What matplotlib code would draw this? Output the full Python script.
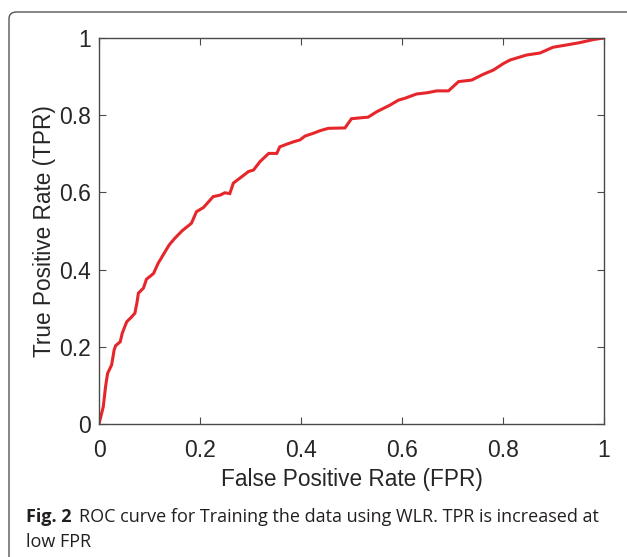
import numpy as np
import matplotlib
matplotlib.use("Agg")
from matplotlib import pyplot as plt
from matplotlib.patches import FancyBboxPatch

# ROC points (FPR, TPR)
fpr = [0.0, 0.0085, 0.013, 0.017, 0.025, 0.030, 0.033, 0.042, 0.046, 0.051,
       0.055, 0.065, 0.071, 0.075, 0.078, 0.088, 0.094, 0.108, 0.117, 0.127,
       0.139, 0.150, 0.165, 0.183, 0.193, 0.207, 0.226, 0.240, 0.249, 0.259,
       0.266, 0.279, 0.296, 0.306, 0.319, 0.336, 0.352, 0.358, 0.372, 0.385,
       0.398, 0.408, 0.424, 0.438, 0.454, 0.487, 0.500, 0.533, 0.550, 0.576,
       0.593, 0.606, 0.629, 0.649, 0.669, 0.692, 0.712, 0.738, 0.761, 0.781,
       0.801, 0.814, 0.847, 0.873, 0.899, 0.926, 0.952, 0.979, 1.0]
tpr = [0.0, 0.045, 0.097, 0.131, 0.153, 0.192, 0.203, 0.213, 0.235, 0.252,
       0.265, 0.278, 0.287, 0.313, 0.339, 0.352, 0.375, 0.390, 0.416, 0.438,
       0.464, 0.481, 0.501, 0.520, 0.550, 0.561, 0.589, 0.593, 0.599, 0.597,
       0.624, 0.637, 0.654, 0.658, 0.680, 0.701, 0.701, 0.718, 0.725, 0.731,
       0.736, 0.746, 0.753, 0.760, 0.766, 0.767, 0.791, 0.795, 0.809, 0.826,
       0.839, 0.844, 0.855, 0.858, 0.863, 0.863, 0.887, 0.891, 0.906, 0.917,
       0.934, 0.943, 0.956, 0.961, 0.976, 0.982, 0.988, 0.996, 1.0]
ticks = [0, 0.2, 0.4, 0.6, 0.8, 1]
tick_labels = ["0", "0.2", "0.4", "0.6", "0.8", "1"]

W, H = 627, 557
fig = plt.figure(figsize=(W / 100, H / 100), dpi=100)

# rounded frame around figure + caption
frame = FancyBboxPatch((9 / W, -0.1), 1.2, 1 - 12 / H + 0.1,
                       boxstyle="round,pad=0,rounding_size=0.012",
                       transform=fig.transFigure, fill=False,
                       edgecolor="#555555", linewidth=1.0)
fig.patches.append(frame)

ax = fig.add_axes([99 / W, (H - 424) / H, 505 / W, 386 / H])
ax.plot(fpr, tpr, color="#e6262a", linewidth=2.2, solid_joinstyle="miter")
ax.set_xlim(0, 1)
ax.set_ylim(0, 1)

gray = "#4a4a4a"
for s in ax.spines.values():
    s.set_color(gray)
    s.set_linewidth(1.0)
ax.set_xticks(ticks)
ax.set_yticks(ticks)
ax.set_xticklabels(tick_labels)
ax.set_yticklabels(tick_labels)
ax.tick_params(direction="in", top=True, right=True, length=5, width=0.8,
               color=gray, labelcolor="#262626", labelsize=16.5)
ax.tick_params(axis="x", pad=11)
ax.tick_params(axis="y", pad=6)
for lab in ax.get_xticklabels() + ax.get_yticklabels():
    lab.set_family("Liberation Sans")
ax.set_xlabel("False Positive Rate (FPR)", fontsize=16.3, family="Liberation Sans",
              color="#262626", labelpad=4)
ax.set_ylabel("True Positive Rate (TPR)", fontsize=16.3, family="Liberation Sans",
              color="#262626", labelpad=2)

# caption
cap_size = 13
fig.text(26 / W, 1 - 517 / H, "Fig. 2", fontsize=cap_size, fontweight="bold",
         family="Open Sans", va="center", color="#231f20")
fig.text(79 / W, 1 - 517 / H, "ROC curve for Training the data using WLR. TPR is increased at",
         fontsize=cap_size, family="Open Sans", va="center", color="#231f20")
fig.text(26 / W, 1 - 542 / H, "low FPR", fontsize=cap_size, family="Open Sans",
         va="center", color="#231f20")

fig.savefig("out.png", dpi=100)
